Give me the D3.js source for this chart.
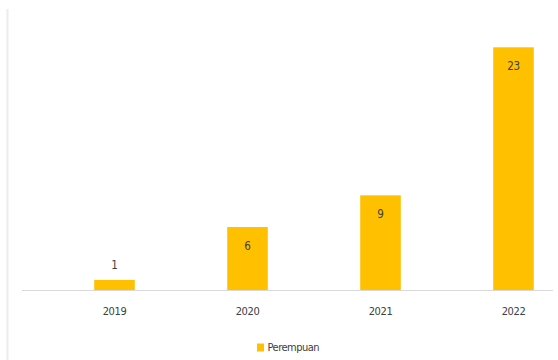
<!DOCTYPE html>
<html>
<head>
<meta charset="utf-8">
<script src="https://cdn.jsdelivr.net/npm/d3@7"></script>
<style>
  html, body { margin: 0; padding: 0; background: #ffffff; }
  svg { display: block; }
</style>
</head>
<body>
<script>
// Jumlah per tahun (Perempuan)
const years = ["2019", "2020", "2021", "2022"];
const perempuan = [1, 6, 9, 23];
const seriesName = "Perempuan";

const W = 558, H = 360;
const font = "'Liberation Sans Narrow', 'DejaVu Sans Condensed', sans-serif";
const textColor = "#404040";
const barColor = "#FFC000";

const svg = d3.select("body").append("svg")
  .attr("width", W).attr("height", H);

// Plot-area edge on the left
svg.append("line")
  .attr("x1", 7.5).attr("x2", 7.5)
  .attr("y1", 9).attr("y2", H)
  .attr("stroke", "#ececec").attr("stroke-width", 2);

const x = d3.scaleBand()
  .domain(years)
  .range([48, 580])
  .paddingInner(0.695)
  .paddingOuter(0.3475);

const y = d3.scaleLinear()
  .domain([0, 23])
  .range([290.5, 47.3]);

// Bars
svg.append("g").selectAll("rect")
  .data(years.map((yr, i) => ({ yr, v: perempuan[i] })))
  .join("rect")
  .attr("x", d => x(d.yr))
  .attr("y", d => y(d.v))
  .attr("width", x.bandwidth())
  .attr("height", d => y(0) - y(d.v))
  .attr("fill", barColor);

// Category axis baseline
svg.append("line")
  .attr("x1", 22).attr("x2", 553)
  .attr("y1", y(0)).attr("y2", y(0))
  .attr("stroke", "#d9d9d9").attr("stroke-width", 1);

// Year labels via axis
const xAxis = svg.append("g")
  .attr("transform", `translate(0,${y(0)})`)
  .call(d3.axisBottom(x).tickSize(0).tickPadding(17));
xAxis.select(".domain").remove();
xAxis.selectAll("text")
  .attr("font-family", font)
  .attr("font-size", 11)
  .attr("letter-spacing", -0.4)
  .attr("fill", textColor);

// Value labels: inside the bar near its top, or above it when the bar is short
svg.append("g").selectAll("text")
  .data(years.map((yr, i) => ({ yr, v: perempuan[i] })))
  .join("text")
  .attr("x", d => x(d.yr) + x.bandwidth() / 2)
  .attr("y", d => {
    const h = y(0) - y(d.v);
    return h < 30 ? y(d.v) - 15 : y(d.v) + 19;
  })
  .attr("dy", "0.35em")
  .attr("text-anchor", "middle")
  .attr("font-family", font)
  .attr("font-size", 11.5)
  .attr("letter-spacing", -0.3)
  .attr("fill", textColor)
  .text(d => d.v);

// Legend
const legend = svg.append("g");
legend.append("rect")
  .attr("x", 257).attr("y", 343.5)
  .attr("width", 7).attr("height", 8)
  .attr("fill", barColor);
legend.append("text")
  .attr("x", 267.5).attr("y", 347.5)
  .attr("dy", "0.35em")
  .attr("font-family", font)
  .attr("font-size", 11)
  .attr("letter-spacing", -0.5)
  .attr("fill", textColor)
  .text(seriesName);
</script>
</body>
</html>
